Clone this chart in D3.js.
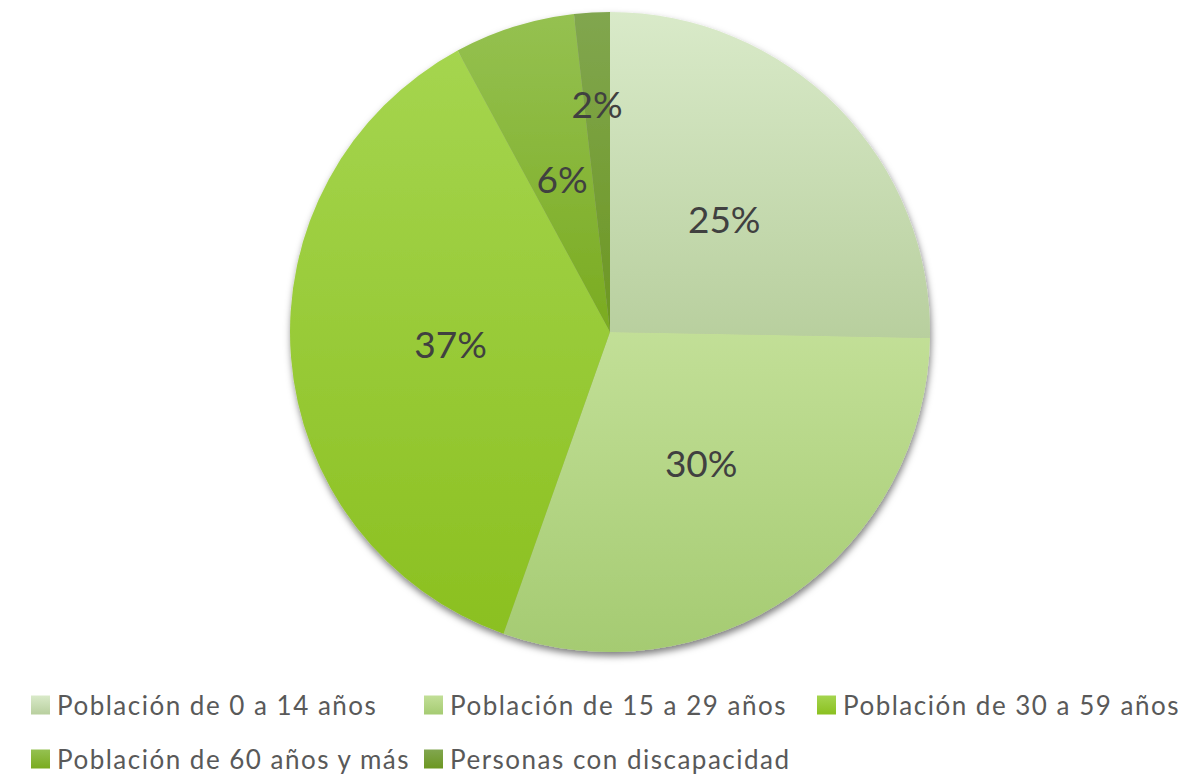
<!DOCTYPE html>
<html>
<head>
<meta charset="utf-8">
<script src="https://cdn.jsdelivr.net/npm/d3@7/dist/d3.min.js"></script>
<style>
  html, body { margin: 0; padding: 0; background: #ffffff; }
  svg { display: block; }
</style>
</head>
<body>
<svg id="chart" width="1203" height="778"></svg>
<script>
// Distribution of the population by group (percent of total)
const categories = [
  "Población de 0 a 14 años",
  "Población de 15 a 29 años",
  "Población de 30 a 59 años",
  "Población de 60 años y más",
  "Personas con discapacidad"
];
const values = [25.3, 30.1, 36.7, 6.1, 1.8];
const labels = ["25%", "30%", "37%", "6%", "2%"];

// Each slice is shaded with a top-to-bottom gradient
const topColors    = ["#d9eac9", "#c2df97", "#a5d54f", "#95c151", "#81a64f"];
const bottomColors = ["#b8cf9e", "#a5cb72", "#8bc020", "#7aab20", "#6c9721"];

const svg = d3.select("#chart");
const cx = 610, cy = 332, radius = 320;

const defs = svg.append("defs");

// soft shadow under the pie
const shadow = defs.append("filter")
  .attr("id", "pieShadow")
  .attr("x", "-10%").attr("y", "-10%")
  .attr("width", "120%").attr("height", "120%");
shadow.append("feDropShadow")
  .attr("dx", 1).attr("dy", 4)
  .attr("stdDeviation", 3.5)
  .attr("flood-color", "#000000")
  .attr("flood-opacity", 0.5);

categories.forEach((c, i) => {
  const g = defs.append("linearGradient")
    .attr("id", "grad" + i)
    .attr("x1", 0).attr("y1", 0).attr("x2", 0).attr("y2", 1);
  g.append("stop").attr("offset", "0%").attr("stop-color", topColors[i]);
  g.append("stop").attr("offset", "100%").attr("stop-color", bottomColors[i]);
});

const pie = d3.pie().sort(null).value(d => d)(values);
const arc = d3.arc().innerRadius(0).outerRadius(radius);

const pieG = svg.append("g")
  .attr("transform", `translate(${cx},${cy})`);

pieG.append("g")
  .attr("filter", "url(#pieShadow)")
  .selectAll("path")
  .data(pie)
  .join("path")
  .attr("d", arc)
  .attr("fill", (d, i) => `url(#grad${i})`);

// Percentage labels: mid-radius, small slices pushed further out
pieG.selectAll("text.pct")
  .data(pie)
  .join("text")
  .attr("class", "pct")
  .attr("transform", d => {
    const r = d.data < 3 ? radius * 0.71 : radius * 0.5;
    const a = (d.startAngle + d.endAngle) / 2;
    return `translate(${Math.sin(a) * r},${-Math.cos(a) * r})`;
  })
  .attr("text-anchor", "middle")
  .attr("dy", "0.36em")
  .style("font-family", "Lato, 'Open Sans', sans-serif")
  .style("font-size", "37px")
  .style("fill", "#404040")
  .text((d, i) => labels[i]);

// Legend laid out on a three-column grid
const legendX = 31, colWidth = 393, rowY = [706, 760], sw = 19;
const legend = svg.append("g");
const item = legend.selectAll("g")
  .data(categories)
  .join("g")
  .attr("transform", (d, i) => `translate(${legendX + (i % 3) * colWidth},${rowY[Math.floor(i / 3)]})`);

item.append("rect")
  .attr("x", 0).attr("y", -sw / 2 - 1)
  .attr("width", sw).attr("height", sw)
  .attr("fill", (d, i) => `url(#grad${i})`);

item.append("text")
  .attr("x", 26)
  .attr("dy", "0.36em")
  .style("font-family", "Lato, 'Open Sans', sans-serif")
  .style("font-size", "26px")
  .style("letter-spacing", "1.5px")
  .style("fill", "#595959")
  .text(d => d);
</script>
</body>
</html>
